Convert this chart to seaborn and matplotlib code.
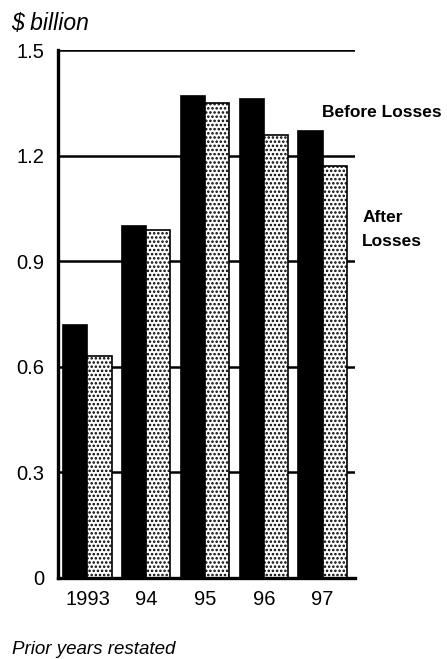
import numpy as np
import pandas as pd
import matplotlib
matplotlib.use("Agg")
import matplotlib.pyplot as plt
import seaborn as sns

years = ["1993", "94", "95", "96", "97"]
before_losses = [0.72, 1.00, 1.37, 1.36, 1.27]
after_losses = [0.63, 0.99, 1.35, 1.26, 1.17]
y_ticks = [0, 0.3, 0.6, 0.9, 1.2, 1.5]
y_tick_labels = ["0", "0.3", "0.6", "0.9", "1.2", "1.5"]

df = pd.DataFrame({
    "year": years * 2,
    "value": before_losses + after_losses,
    "series": ["Before Losses"] * len(years) + ["After Losses"] * len(years),
})

sns.set_style("white")
plt.rcParams["font.family"] = ["Liberation Sans", "DejaVu Sans"]
plt.rcParams["hatch.linewidth"] = 1.2
plt.rcParams["text.color"] = "black"
plt.rcParams["xtick.color"] = "black"
plt.rcParams["ytick.color"] = "black"

fig = plt.figure(figsize=(4.47, 6.59), dpi=100)
ax = fig.add_axes([0.130, 0.123, 0.664, 0.801])

sns.barplot(data=df, x="year", y="value", hue="series",
            palette=["black", "white"], width=0.82, saturation=1,
            edgecolor="black", linewidth=1.2, ax=ax, legend=False)

# stipple the "after losses" bars
for bar in ax.containers[1]:
    bar.set_hatch("....")

ax.set_ylim(0, 1.5)
ax.set_xlim(-0.5, 4.55)
ax.set_yticks(y_ticks)
ax.set_yticklabels(y_tick_labels, fontsize=14.5)
ax.tick_params(axis="y", length=0, pad=10)
ax.tick_params(axis="x", length=0, pad=9, labelsize=14.5)
ax.set_xlabel("")
ax.set_ylabel("")

ax.set_axisbelow(True)
ax.yaxis.grid(True, color="black", linewidth=1.8)
ax.xaxis.grid(False)
for s in ["top", "right"]:
    ax.spines[s].set_visible(False)
for s in ["left", "bottom"]:
    ax.spines[s].set_linewidth(2.4)
    ax.spines[s].set_color("black")

fig.text(0.025, 0.965, "$ billion", fontsize=16.5, style="italic", va="center")
fig.text(0.72, 0.830, "Before Losses", fontsize=12.5, fontweight="bold", va="center")
fig.text(0.81, 0.651, "After\nLosses", fontsize=12.5, fontweight="bold",
         va="center", linespacing=1.75)
fig.text(0.027, 0.014, "Prior years restated", fontsize=13.5, style="italic", va="center")

fig.savefig("out.png", dpi=100)
